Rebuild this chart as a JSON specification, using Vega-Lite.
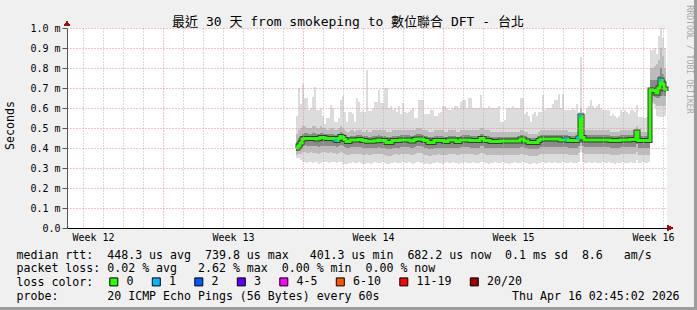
{
"$schema":"https://vega.github.io/schema/vega-lite/v6.json",
"width":600,"height":200,
"autosize":{"type":"none"},
"padding":{"left":67,"top":28,"right":30,"bottom":82},
"background":"#f0f0f0",
"config":{"view":{"fill":"#ffffff","stroke":null},"font":"DejaVu Sans Mono"},
"data":{"values":[
{"t":11.45,"a":0.56,"b":0.47,"c":0.43,"m":0.40,"f":0.385,"g":0.365,"n":0.35,"L":"0"},
{"t":11.55,"a":0.70,"b":0.49,"c":0.45,"m":0.41,"f":0.39,"g":0.37,"n":0.35,"L":"0"},
{"t":11.65,"a":0.62,"b":0.50,"c":0.46,"m":0.425,"f":0.40,"g":0.37,"n":0.34,"L":"0"},
{"t":11.75,"a":0.72,"b":0.51,"c":0.47,"m":0.445,"f":0.41,"g":0.38,"n":0.33,"L":"0"},
{"t":11.85,"a":0.65,"b":0.51,"c":0.475,"m":0.448,"f":0.415,"g":0.38,"n":0.33,"L":"0"},
{"t":11.95,"a":0.65,"b":0.50,"c":0.475,"m":0.448,"f":0.41,"g":0.375,"n":0.325,"L":"0"},
{"t":12.05,"a":0.59,"b":0.50,"c":0.47,"m":0.448,"f":0.41,"g":0.375,"n":0.33,"L":"0"},
{"t":12.15,"a":0.60,"b":0.50,"c":0.47,"m":0.448,"f":0.41,"g":0.38,"n":0.33,"L":"0"},
{"t":12.25,"a":0.655,"b":0.51,"c":0.475,"m":0.448,"f":0.41,"g":0.375,"n":0.325,"L":"0"},
{"t":12.35,"a":0.705,"b":0.51,"c":0.475,"m":0.448,"f":0.41,"g":0.375,"n":0.33,"L":"0"},
{"t":12.45,"a":0.59,"b":0.50,"c":0.47,"m":0.445,"f":0.41,"g":0.375,"n":0.33,"L":"0"},
{"t":12.55,"a":0.59,"b":0.50,"c":0.47,"m":0.448,"f":0.405,"g":0.37,"n":0.32,"L":"0"},
{"t":12.65,"a":0.60,"b":0.51,"c":0.475,"m":0.453,"f":0.41,"g":0.375,"n":0.325,"L":"0"},
{"t":12.75,"a":0.56,"b":0.50,"c":0.475,"m":0.453,"f":0.41,"g":0.38,"n":0.33,"L":"0"},
{"t":12.85,"a":0.52,"b":0.50,"c":0.47,"m":0.45,"f":0.41,"g":0.38,"n":0.33,"L":"0"},
{"t":12.95,"a":0.55,"b":0.49,"c":0.47,"m":0.447,"f":0.41,"g":0.375,"n":0.33,"L":"0"},
{"t":13.05,"a":0.55,"b":0.49,"c":0.47,"m":0.447,"f":0.41,"g":0.375,"n":0.325,"L":"0"},
{"t":13.15,"a":0.615,"b":0.50,"c":0.47,"m":0.447,"f":0.41,"g":0.38,"n":0.33,"L":"0"},
{"t":13.25,"a":0.60,"b":0.50,"c":0.47,"m":0.447,"f":0.41,"g":0.375,"n":0.33,"L":"0"},
{"t":13.35,"a":0.53,"b":0.49,"c":0.465,"m":0.445,"f":0.41,"g":0.375,"n":0.33,"L":"0"},
{"t":13.45,"a":0.53,"b":0.49,"c":0.465,"m":0.438,"f":0.405,"g":0.37,"n":0.325,"L":"1"},
{"t":13.55,"a":0.55,"b":0.50,"c":0.47,"m":0.448,"f":0.41,"g":0.375,"n":0.33,"L":"0"},
{"t":13.65,"a":0.64,"b":0.51,"c":0.48,"m":0.457,"f":0.415,"g":0.38,"n":0.33,"L":"0"},
{"t":13.75,"a":0.66,"b":0.50,"c":0.475,"m":0.452,"f":0.41,"g":0.375,"n":0.32,"L":"0"},
{"t":13.85,"a":0.58,"b":0.49,"c":0.465,"m":0.443,"f":0.405,"g":0.37,"n":0.32,"L":"0"},
{"t":13.95,"a":0.53,"b":0.48,"c":0.455,"m":0.432,"f":0.40,"g":0.365,"n":0.32,"L":"0"},
{"t":14.05,"a":0.58,"b":0.48,"c":0.455,"m":0.432,"f":0.40,"g":0.365,"n":0.325,"L":"0"},
{"t":14.15,"a":0.58,"b":0.49,"c":0.46,"m":0.44,"f":0.405,"g":0.37,"n":0.325,"L":"0"},
{"t":14.25,"a":0.57,"b":0.49,"c":0.46,"m":0.44,"f":0.405,"g":0.37,"n":0.33,"L":"0"},
{"t":14.35,"a":0.53,"b":0.48,"c":0.46,"m":0.44,"f":0.405,"g":0.37,"n":0.325,"L":"0"},
{"t":14.45,"a":0.65,"b":0.49,"c":0.465,"m":0.44,"f":0.405,"g":0.37,"n":0.325,"L":"0"},
{"t":14.55,"a":0.63,"b":0.49,"c":0.465,"m":0.443,"f":0.405,"g":0.37,"n":0.33,"L":"0"},
{"t":14.65,"a":0.58,"b":0.49,"c":0.465,"m":0.443,"f":0.405,"g":0.37,"n":0.325,"L":"0"},
{"t":14.75,"a":0.585,"b":0.48,"c":0.46,"m":0.437,"f":0.40,"g":0.365,"n":0.32,"L":"0"},
{"t":14.85,"a":0.58,"b":0.48,"c":0.46,"m":0.437,"f":0.40,"g":0.365,"n":0.32,"L":"0"},
{"t":14.95,"a":0.79,"b":0.49,"c":0.46,"m":0.434,"f":0.40,"g":0.37,"n":0.325,"L":"0"},
{"t":15.05,"a":0.585,"b":0.48,"c":0.455,"m":0.434,"f":0.40,"g":0.365,"n":0.325,"L":"0"},
{"t":15.15,"a":0.585,"b":0.48,"c":0.455,"m":0.434,"f":0.40,"g":0.365,"n":0.32,"L":"0"},
{"t":15.25,"a":0.60,"b":0.49,"c":0.46,"m":0.434,"f":0.40,"g":0.37,"n":0.325,"L":"0"},
{"t":15.35,"a":0.63,"b":0.49,"c":0.46,"m":0.436,"f":0.40,"g":0.37,"n":0.33,"L":"0"},
{"t":15.45,"a":0.63,"b":0.49,"c":0.46,"m":0.436,"f":0.40,"g":0.37,"n":0.325,"L":"0"},
{"t":15.55,"a":0.69,"b":0.49,"c":0.465,"m":0.44,"f":0.405,"g":0.37,"n":0.325,"L":"0"},
{"t":15.65,"a":0.625,"b":0.49,"c":0.46,"m":0.437,"f":0.40,"g":0.37,"n":0.325,"L":"0"},
{"t":15.75,"a":0.625,"b":0.49,"c":0.46,"m":0.437,"f":0.40,"g":0.37,"n":0.33,"L":"0"},
{"t":15.85,"a":0.70,"b":0.49,"c":0.46,"m":0.437,"f":0.40,"g":0.365,"n":0.325,"L":"0"},
{"t":15.95,"a":0.70,"b":0.48,"c":0.455,"m":0.428,"f":0.395,"g":0.36,"n":0.32,"L":"0"},
{"t":16.05,"a":0.60,"b":0.48,"c":0.455,"m":0.428,"f":0.395,"g":0.36,"n":0.32,"L":"0"},
{"t":16.15,"a":0.61,"b":0.48,"c":0.455,"m":0.428,"f":0.395,"g":0.36,"n":0.325,"L":"0"},
{"t":16.25,"a":0.59,"b":0.49,"c":0.46,"m":0.437,"f":0.40,"g":0.365,"n":0.325,"L":"0"},
{"t":16.35,"a":0.60,"b":0.49,"c":0.46,"m":0.437,"f":0.40,"g":0.37,"n":0.33,"L":"0"},
{"t":16.45,"a":0.58,"b":0.49,"c":0.46,"m":0.437,"f":0.40,"g":0.37,"n":0.325,"L":"0"},
{"t":16.55,"a":0.61,"b":0.49,"c":0.46,"m":0.437,"f":0.40,"g":0.365,"n":0.325,"L":"0"},
{"t":16.65,"a":0.57,"b":0.49,"c":0.465,"m":0.44,"f":0.405,"g":0.37,"n":0.325,"L":"0"},
{"t":16.75,"a":0.625,"b":0.49,"c":0.465,"m":0.44,"f":0.405,"g":0.37,"n":0.33,"L":"0"},
{"t":16.85,"a":0.58,"b":0.49,"c":0.465,"m":0.44,"f":0.405,"g":0.37,"n":0.325,"L":"0"},
{"t":16.95,"a":0.575,"b":0.49,"c":0.465,"m":0.44,"f":0.405,"g":0.37,"n":0.325,"L":"0"},
{"t":17.05,"a":0.58,"b":0.49,"c":0.465,"m":0.44,"f":0.405,"g":0.37,"n":0.33,"L":"0"},
{"t":17.15,"a":0.59,"b":0.49,"c":0.46,"m":0.435,"f":0.40,"g":0.365,"n":0.325,"L":"0"},
{"t":17.25,"a":0.60,"b":0.49,"c":0.46,"m":0.435,"f":0.40,"g":0.365,"n":0.32,"L":"0"},
{"t":17.35,"a":0.55,"b":0.49,"c":0.465,"m":0.443,"f":0.405,"g":0.37,"n":0.325,"L":"0"},
{"t":17.45,"a":0.55,"b":0.50,"c":0.47,"m":0.445,"f":0.41,"g":0.375,"n":0.33,"L":"0"},
{"t":17.55,"a":0.64,"b":0.50,"c":0.47,"m":0.445,"f":0.41,"g":0.375,"n":0.33,"L":"0"},
{"t":17.65,"a":0.64,"b":0.50,"c":0.47,"m":0.445,"f":0.41,"g":0.375,"n":0.325,"L":"0"},
{"t":17.75,"a":0.64,"b":0.49,"c":0.465,"m":0.443,"f":0.405,"g":0.37,"n":0.325,"L":"0"},
{"t":17.85,"a":0.57,"b":0.49,"c":0.46,"m":0.437,"f":0.40,"g":0.365,"n":0.32,"L":"0"},
{"t":17.95,"a":0.57,"b":0.49,"c":0.46,"m":0.437,"f":0.40,"g":0.365,"n":0.325,"L":"0"},
{"t":18.05,"a":0.57,"b":0.48,"c":0.455,"m":0.428,"f":0.395,"g":0.36,"n":0.32,"L":"0"},
{"t":18.15,"a":0.59,"b":0.48,"c":0.455,"m":0.428,"f":0.395,"g":0.36,"n":0.32,"L":"0"},
{"t":18.25,"a":0.59,"b":0.48,"c":0.455,"m":0.428,"f":0.395,"g":0.365,"n":0.325,"L":"0"},
{"t":18.35,"a":0.56,"b":0.49,"c":0.46,"m":0.437,"f":0.40,"g":0.365,"n":0.325,"L":"0"},
{"t":18.45,"a":0.56,"b":0.49,"c":0.46,"m":0.437,"f":0.40,"g":0.365,"n":0.33,"L":"0"},
{"t":18.55,"a":0.575,"b":0.49,"c":0.46,"m":0.437,"f":0.40,"g":0.37,"n":0.325,"L":"0"},
{"t":18.65,"a":0.58,"b":0.49,"c":0.46,"m":0.437,"f":0.40,"g":0.365,"n":0.325,"L":"0"},
{"t":18.75,"a":0.61,"b":0.49,"c":0.46,"m":0.437,"f":0.40,"g":0.365,"n":0.32,"L":"0"},
{"t":18.85,"a":0.61,"b":0.48,"c":0.455,"m":0.432,"f":0.40,"g":0.365,"n":0.325,"L":"0"},
{"t":18.95,"a":0.60,"b":0.48,"c":0.455,"m":0.432,"f":0.40,"g":0.365,"n":0.33,"L":"0"},
{"t":19.05,"a":0.59,"b":0.49,"c":0.46,"m":0.44,"f":0.40,"g":0.37,"n":0.325,"L":"0"},
{"t":19.15,"a":0.59,"b":0.49,"c":0.46,"m":0.44,"f":0.40,"g":0.37,"n":0.325,"L":"0"},
{"t":19.25,"a":0.60,"b":0.49,"c":0.46,"m":0.44,"f":0.40,"g":0.37,"n":0.33,"L":"0"},
{"t":19.35,"a":0.61,"b":0.49,"c":0.46,"m":0.44,"f":0.40,"g":0.37,"n":0.325,"L":"0"},
{"t":19.45,"a":0.61,"b":0.48,"c":0.455,"m":0.432,"f":0.40,"g":0.365,"n":0.325,"L":"0"},
{"t":19.55,"a":0.60,"b":0.48,"c":0.455,"m":0.432,"f":0.40,"g":0.365,"n":0.32,"L":"0"},
{"t":19.65,"a":0.63,"b":0.49,"c":0.46,"m":0.44,"f":0.405,"g":0.37,"n":0.325,"L":"0"},
{"t":19.75,"a":0.64,"b":0.49,"c":0.465,"m":0.44,"f":0.405,"g":0.37,"n":0.325,"L":"0"},
{"t":19.85,"a":0.64,"b":0.49,"c":0.465,"m":0.44,"f":0.405,"g":0.37,"n":0.33,"L":"0"},
{"t":19.95,"a":0.60,"b":0.49,"c":0.465,"m":0.44,"f":0.405,"g":0.37,"n":0.325,"L":"0"},
{"t":20.05,"a":0.65,"b":0.49,"c":0.465,"m":0.44,"f":0.405,"g":0.37,"n":0.325,"L":"0"},
{"t":20.15,"a":0.65,"b":0.49,"c":0.46,"m":0.437,"f":0.40,"g":0.37,"n":0.325,"L":"0"},
{"t":20.25,"a":0.60,"b":0.49,"c":0.46,"m":0.437,"f":0.40,"g":0.37,"n":0.33,"L":"0"},
{"t":20.35,"a":0.60,"b":0.49,"c":0.46,"m":0.437,"f":0.40,"g":0.365,"n":0.325,"L":"0"},
{"t":20.45,"a":0.60,"b":0.49,"c":0.46,"m":0.437,"f":0.40,"g":0.365,"n":0.325,"L":"0"},
{"t":20.55,"a":0.60,"b":0.49,"c":0.46,"m":0.437,"f":0.40,"g":0.37,"n":0.325,"L":"0"},
{"t":20.65,"a":0.665,"b":0.50,"c":0.47,"m":0.447,"f":0.41,"g":0.375,"n":0.33,"L":"0"},
{"t":20.75,"a":0.60,"b":0.50,"c":0.47,"m":0.447,"f":0.41,"g":0.375,"n":0.33,"L":"0"},
{"t":20.85,"a":0.60,"b":0.49,"c":0.46,"m":0.437,"f":0.40,"g":0.37,"n":0.325,"L":"0"},
{"t":20.95,"a":0.60,"b":0.49,"c":0.46,"m":0.437,"f":0.40,"g":0.365,"n":0.325,"L":"0"},
{"t":21.05,"a":0.61,"b":0.49,"c":0.46,"m":0.437,"f":0.40,"g":0.365,"n":0.32,"L":"0"},
{"t":21.15,"a":0.60,"b":0.48,"c":0.455,"m":0.433,"f":0.40,"g":0.365,"n":0.325,"L":"0"},
{"t":21.25,"a":0.60,"b":0.48,"c":0.455,"m":0.433,"f":0.40,"g":0.365,"n":0.325,"L":"0"},
{"t":21.35,"a":0.60,"b":0.48,"c":0.455,"m":0.433,"f":0.40,"g":0.365,"n":0.33,"L":"0"},
{"t":21.45,"a":0.60,"b":0.48,"c":0.455,"m":0.433,"f":0.40,"g":0.365,"n":0.325,"L":"0"},
{"t":21.55,"a":0.61,"b":0.48,"c":0.455,"m":0.433,"f":0.40,"g":0.365,"n":0.325,"L":"0"},
{"t":21.65,"a":0.53,"b":0.48,"c":0.455,"m":0.435,"f":0.40,"g":0.365,"n":0.325,"L":"0"},
{"t":21.75,"a":0.53,"b":0.48,"c":0.455,"m":0.435,"f":0.40,"g":0.365,"n":0.33,"L":"0"},
{"t":21.85,"a":0.54,"b":0.48,"c":0.455,"m":0.435,"f":0.40,"g":0.365,"n":0.325,"L":"0"},
{"t":21.95,"a":0.60,"b":0.48,"c":0.455,"m":0.435,"f":0.40,"g":0.365,"n":0.325,"L":"0"},
{"t":22.05,"a":0.60,"b":0.48,"c":0.455,"m":0.435,"f":0.40,"g":0.365,"n":0.32,"L":"0"},
{"t":22.15,"a":0.60,"b":0.48,"c":0.455,"m":0.435,"f":0.40,"g":0.365,"n":0.325,"L":"0"},
{"t":22.25,"a":0.61,"b":0.48,"c":0.455,"m":0.435,"f":0.40,"g":0.365,"n":0.325,"L":"0"},
{"t":22.35,"a":0.60,"b":0.48,"c":0.455,"m":0.435,"f":0.40,"g":0.365,"n":0.33,"L":"0"},
{"t":22.45,"a":0.60,"b":0.48,"c":0.455,"m":0.435,"f":0.40,"g":0.365,"n":0.325,"L":"0"},
{"t":22.55,"a":0.60,"b":0.48,"c":0.455,"m":0.435,"f":0.40,"g":0.365,"n":0.325,"L":"0"},
{"t":22.65,"a":0.65,"b":0.49,"c":0.465,"m":0.445,"f":0.405,"g":0.37,"n":0.325,"L":"0"},
{"t":22.75,"a":0.65,"b":0.49,"c":0.465,"m":0.445,"f":0.405,"g":0.37,"n":0.33,"L":"0"},
{"t":22.85,"a":0.57,"b":0.48,"c":0.455,"m":0.435,"f":0.40,"g":0.365,"n":0.325,"L":"0"},
{"t":22.95,"a":0.58,"b":0.48,"c":0.455,"m":0.435,"f":0.40,"g":0.365,"n":0.325,"L":"0"},
{"t":23.05,"a":0.56,"b":0.47,"c":0.45,"m":0.427,"f":0.395,"g":0.36,"n":0.32,"L":"0"},
{"t":23.15,"a":0.53,"b":0.47,"c":0.45,"m":0.427,"f":0.395,"g":0.36,"n":0.32,"L":"0"},
{"t":23.25,"a":0.57,"b":0.47,"c":0.45,"m":0.427,"f":0.395,"g":0.36,"n":0.325,"L":"0"},
{"t":23.35,"a":0.58,"b":0.47,"c":0.45,"m":0.427,"f":0.395,"g":0.36,"n":0.325,"L":"0"},
{"t":23.45,"a":0.56,"b":0.47,"c":0.45,"m":0.427,"f":0.395,"g":0.36,"n":0.32,"L":"0"},
{"t":23.55,"a":0.58,"b":0.48,"c":0.455,"m":0.437,"f":0.40,"g":0.365,"n":0.325,"L":"0"},
{"t":23.65,"a":0.58,"b":0.49,"c":0.465,"m":0.445,"f":0.405,"g":0.37,"n":0.325,"L":"0"},
{"t":23.75,"a":0.665,"b":0.49,"c":0.465,"m":0.445,"f":0.405,"g":0.37,"n":0.33,"L":"0"},
{"t":23.85,"a":0.59,"b":0.49,"c":0.465,"m":0.445,"f":0.405,"g":0.37,"n":0.325,"L":"0"},
{"t":23.95,"a":0.60,"b":0.49,"c":0.465,"m":0.445,"f":0.405,"g":0.37,"n":0.325,"L":"0"},
{"t":24.05,"a":0.60,"b":0.49,"c":0.465,"m":0.445,"f":0.405,"g":0.37,"n":0.33,"L":"0"},
{"t":24.15,"a":0.60,"b":0.49,"c":0.465,"m":0.445,"f":0.405,"g":0.37,"n":0.325,"L":"0"},
{"t":24.25,"a":0.62,"b":0.49,"c":0.465,"m":0.445,"f":0.405,"g":0.37,"n":0.325,"L":"0"},
{"t":24.35,"a":0.64,"b":0.49,"c":0.465,"m":0.445,"f":0.405,"g":0.37,"n":0.33,"L":"0"},
{"t":24.45,"a":0.64,"b":0.49,"c":0.465,"m":0.445,"f":0.405,"g":0.37,"n":0.325,"L":"0"},
{"t":24.55,"a":0.67,"b":0.49,"c":0.465,"m":0.445,"f":0.405,"g":0.37,"n":0.325,"L":"0"},
{"t":24.65,"a":0.60,"b":0.49,"c":0.465,"m":0.44,"f":0.405,"g":0.37,"n":0.325,"L":"0"},
{"t":24.75,"a":0.67,"b":0.49,"c":0.465,"m":0.44,"f":0.405,"g":0.37,"n":0.33,"L":"0"},
{"t":24.85,"a":0.59,"b":0.49,"c":0.465,"m":0.44,"f":0.405,"g":0.37,"n":0.325,"L":"0"},
{"t":24.95,"a":0.59,"b":0.49,"c":0.465,"m":0.445,"f":0.405,"g":0.37,"n":0.325,"L":"1"},
{"t":25.05,"a":0.59,"b":0.48,"c":0.46,"m":0.437,"f":0.40,"g":0.365,"n":0.325,"L":"0"},
{"t":25.15,"a":0.59,"b":0.48,"c":0.46,"m":0.437,"f":0.40,"g":0.365,"n":0.33,"L":"0"},
{"t":25.25,"a":0.60,"b":0.48,"c":0.46,"m":0.437,"f":0.40,"g":0.365,"n":0.325,"L":"0"},
{"t":25.35,"a":0.59,"b":0.48,"c":0.46,"m":0.437,"f":0.40,"g":0.365,"n":0.325,"L":"0"},
{"t":25.45,"a":0.62,"b":0.48,"c":0.46,"m":0.437,"f":0.40,"g":0.365,"n":0.325,"L":"0"},
{"t":25.55,"a":0.58,"b":0.49,"c":0.465,"m":0.45,"f":0.41,"g":0.375,"n":0.33,"L":"1"},
{"t":25.65,"a":0.855,"b":0.60,"c":0.57,"m":0.56,"f":0.43,"g":0.41,"n":0.38,"L":"1"},
{"t":25.75,"a":0.58,"b":0.49,"c":0.47,"m":0.452,"f":0.41,"g":0.375,"n":0.33,"L":"0"},
{"t":25.85,"a":0.57,"b":0.49,"c":0.465,"m":0.44,"f":0.405,"g":0.37,"n":0.325,"L":"0"},
{"t":25.95,"a":0.60,"b":0.49,"c":0.465,"m":0.44,"f":0.405,"g":0.37,"n":0.325,"L":"0"},
{"t":26.05,"a":0.61,"b":0.49,"c":0.465,"m":0.44,"f":0.405,"g":0.37,"n":0.33,"L":"0"},
{"t":26.15,"a":0.64,"b":0.49,"c":0.465,"m":0.44,"f":0.405,"g":0.37,"n":0.325,"L":"0"},
{"t":26.25,"a":0.61,"b":0.49,"c":0.465,"m":0.44,"f":0.405,"g":0.37,"n":0.325,"L":"0"},
{"t":26.35,"a":0.60,"b":0.49,"c":0.465,"m":0.44,"f":0.405,"g":0.37,"n":0.33,"L":"0"},
{"t":26.45,"a":0.61,"b":0.49,"c":0.465,"m":0.44,"f":0.405,"g":0.37,"n":0.325,"L":"0"},
{"t":26.55,"a":0.62,"b":0.49,"c":0.465,"m":0.44,"f":0.405,"g":0.37,"n":0.325,"L":"0"},
{"t":26.65,"a":0.60,"b":0.49,"c":0.465,"m":0.44,"f":0.405,"g":0.37,"n":0.325,"L":"0"},
{"t":26.75,"a":0.59,"b":0.49,"c":0.465,"m":0.44,"f":0.405,"g":0.37,"n":0.33,"L":"0"},
{"t":26.85,"a":0.59,"b":0.49,"c":0.465,"m":0.44,"f":0.405,"g":0.37,"n":0.325,"L":"0"},
{"t":26.95,"a":0.59,"b":0.49,"c":0.465,"m":0.44,"f":0.405,"g":0.37,"n":0.325,"L":"0"},
{"t":27.05,"a":0.59,"b":0.49,"c":0.465,"m":0.44,"f":0.405,"g":0.37,"n":0.33,"L":"0"},
{"t":27.15,"a":0.56,"b":0.48,"c":0.46,"m":0.437,"f":0.40,"g":0.365,"n":0.325,"L":"0"},
{"t":27.25,"a":0.57,"b":0.48,"c":0.46,"m":0.437,"f":0.40,"g":0.365,"n":0.325,"L":"0"},
{"t":27.35,"a":0.56,"b":0.48,"c":0.46,"m":0.437,"f":0.40,"g":0.365,"n":0.32,"L":"0"},
{"t":27.45,"a":0.55,"b":0.48,"c":0.46,"m":0.437,"f":0.40,"g":0.365,"n":0.325,"L":"0"},
{"t":27.55,"a":0.56,"b":0.48,"c":0.46,"m":0.437,"f":0.40,"g":0.365,"n":0.325,"L":"0"},
{"t":27.65,"a":0.59,"b":0.49,"c":0.465,"m":0.44,"f":0.405,"g":0.37,"n":0.325,"L":"0"},
{"t":27.75,"a":0.58,"b":0.49,"c":0.465,"m":0.44,"f":0.405,"g":0.37,"n":0.33,"L":"0"},
{"t":27.85,"a":0.59,"b":0.49,"c":0.465,"m":0.44,"f":0.405,"g":0.37,"n":0.325,"L":"0"},
{"t":27.95,"a":0.58,"b":0.49,"c":0.465,"m":0.44,"f":0.405,"g":0.37,"n":0.325,"L":"0"},
{"t":28.05,"a":0.57,"b":0.49,"c":0.465,"m":0.44,"f":0.405,"g":0.37,"n":0.325,"L":"0"},
{"t":28.15,"a":0.59,"b":0.49,"c":0.465,"m":0.443,"f":0.405,"g":0.37,"n":0.33,"L":"0"},
{"t":28.25,"a":0.59,"b":0.49,"c":0.465,"m":0.443,"f":0.405,"g":0.37,"n":0.325,"L":"0"},
{"t":28.35,"a":0.58,"b":0.49,"c":0.465,"m":0.443,"f":0.405,"g":0.37,"n":0.325,"L":"0"},
{"t":28.45,"a":0.615,"b":0.51,"c":0.49,"m":0.48,"f":0.42,"g":0.38,"n":0.34,"L":"0"},
{"t":28.55,"a":0.555,"b":0.48,"c":0.46,"m":0.437,"f":0.40,"g":0.365,"n":0.325,"L":"0"},
{"t":28.65,"a":0.555,"b":0.48,"c":0.46,"m":0.437,"f":0.40,"g":0.365,"n":0.325,"L":"0"},
{"t":28.75,"a":0.555,"b":0.48,"c":0.46,"m":0.437,"f":0.40,"g":0.365,"n":0.33,"L":"0"},
{"t":28.85,"a":0.55,"b":0.48,"c":0.46,"m":0.437,"f":0.40,"g":0.365,"n":0.325,"L":"0"},
{"t":28.95,"a":0.555,"b":0.48,"c":0.46,"m":0.437,"f":0.40,"g":0.365,"n":0.325,"L":"0"},
{"t":29.05,"a":0.555,"b":0.48,"c":0.46,"m":0.437,"f":0.40,"g":0.365,"n":0.33,"L":"0"},
{"t":29.15,"a":0.89,"b":0.80,"c":0.74,"m":0.69,"f":0.66,"g":0.64,"n":0.63,"L":"0"},
{"t":29.25,"a":0.89,"b":0.80,"c":0.74,"m":0.687,"f":0.66,"g":0.63,"n":0.62,"L":"0"},
{"t":29.35,"a":0.90,"b":0.81,"c":0.74,"m":0.687,"f":0.655,"g":0.62,"n":0.60,"L":"0"},
{"t":29.45,"a":0.87,"b":0.82,"c":0.74,"m":0.675,"f":0.65,"g":0.61,"n":0.56,"L":"0"},
{"t":29.55,"a":0.96,"b":0.84,"c":0.76,"m":0.70,"f":0.65,"g":0.61,"n":0.555,"L":"0"},
{"t":29.65,"a":1.00,"b":0.90,"c":0.80,"m":0.74,"f":0.66,"g":0.61,"n":0.555,"L":"1"},
{"t":29.75,"a":0.95,"b":0.86,"c":0.77,"m":0.72,"f":0.66,"g":0.61,"n":0.555,"L":"0"},
{"t":29.85,"a":0.90,"b":0.80,"c":0.74,"m":0.695,"f":0.66,"g":0.61,"n":0.56,"L":"0"},
{"t":29.95,"a":0.90,"b":0.80,"c":0.74,"m":0.685,"f":0.66,"g":0.61,"n":0.56,"L":"0"}
]},
"layer":[
{"mark":{"type":"area","interpolate":"step-after","color":"#dcdcdc"},
 "encoding":{
  "x":{"field":"t","type":"quantitative","scale":{"domain":[0,30],"nice":false,"zero":false},
   "axis":{"orient":"bottom","values":[0.8,1.8,2.8,3.8,4.8,5.8,6.8,7.8,8.8,9.8,10.8,11.8,12.8,13.8,14.8,15.8,16.8,17.8,18.8,19.8,20.8,21.8,22.8,23.8,24.8,25.8,26.8,27.8,28.8,29.8],
    "grid":true,"gridColor":{"condition":{"test":"indexof([4.8,11.8,18.8,25.8], datum.value) >= 0","value":"#e08c8c"},"value":"#b4b4b4"},
    "gridDash":[1,2],"gridWidth":1,"labels":false,"ticks":false,"domain":false,"title":null,"zindex":1}},
  "y":{"field":"a","type":"quantitative","scale":{"domain":[0,1],"nice":false,"zero":true},
   "axis":{"orient":"left","values":[0,0.1,0.2,0.3,0.4,0.5,0.6,0.7,0.8,0.9,1.0],
    "labelExpr":"datum.value == 0 ? '0.0' : format(datum.value, '.1f') + ' m'",
    "grid":true,"gridColor":"#e08c8c","gridDash":[1,2],"zindex":1,
    "domainColor":"#555555","tickColor":"#555555","tickSize":5,
    "labelFont":"DejaVu Sans Mono","labelFontSize":10,"labelColor":"#000000","labelPadding":2,"labelOverlap":false,
    "title":"Seconds","titleFont":"DejaVu Sans Mono","titleFontSize":11.6,"titleFontWeight":"normal","titleColor":"#000000",
    "titleAngle":270,"titleX":-57,"titleY":97,"titleAlign":"center","titleBaseline":"middle"}},
  "y2":{"field":"n"}}},
{"mark":{"type":"area","interpolate":"step-after","color":"#bcbcbc"},
 "encoding":{"x":{"field":"t","type":"quantitative","axis":null},"y":{"field":"b","type":"quantitative","axis":null},"y2":{"field":"g"}}},
{"mark":{"type":"area","interpolate":"step-after","color":"#8a8a8a"},
 "encoding":{"x":{"field":"t","type":"quantitative","axis":null},"y":{"field":"c","type":"quantitative","axis":null},"y2":{"field":"f"}}},
{"mark":{"type":"line","interpolate":"step-after","color":"#383838","strokeWidth":5},
 "encoding":{
  "x":{"field":"t","type":"quantitative",
   "axis":{"orient":"top","labels":false,"ticks":false,"domain":false,"grid":false,
    "title":"最近 30 天 from smokeping to 數位聯合 DFT - 台北",
    "titleFont":"DejaVu Sans Mono, Noto Sans CJK TC","titleFontSize":13,"titleFontWeight":"normal","titleColor":"#000000",
    "titleX":280.5,"titleY":-3,"titleAlign":"center","titleBaseline":"alphabetic"}},
  "y":{"field":"m","type":"quantitative","axis":null}}},
{"mark":{"type":"line","interpolate":"step-after","color":"#26ff00","strokeWidth":3},
 "encoding":{
  "x":{"field":"t","type":"quantitative",
   "axis":{"orient":"bottom","values":[1.3,8.3,15.3,22.3,29.3],
    "labelExpr":"'Week ' + round((datum.value - 1.3) / 7 + 12)",
    "grid":false,"ticks":false,"domain":true,"domainColor":"#000000","domainWidth":1,
    "labelFont":"DejaVu Sans Mono","labelFontSize":10,"labelColor":"#000000","labelPadding":4,"labelFlush":false,"labelOverlap":false,"labelBound":false,
    "zindex":1,
    "title":["median rtt:\u00a0\u00a0448.3 us avg\u00a0\u00a0739.8 us max\u00a0\u00a0\u00a0401.3 us min\u00a0\u00a0682.2 us now\u00a0\u00a00.1 ms sd\u00a0\u00a08.6\u00a0\u00a0\u00a0am/s",
             "packet loss: 0.02 % avg\u00a0\u00a0\u00a02.62 % max\u00a0\u00a00.00 % min\u00a0\u00a00.00 % now",
             "loss color:",
             "probe:\u00a0\u00a0\u00a0\u00a0\u00a0\u00a0\u00a020 ICMP Echo Pings (56 Bytes) every 60s\u00a0\u00a0\u00a0\u00a0\u00a0\u00a0\u00a0\u00a0\u00a0\u00a0\u00a0\u00a0\u00a0\u00a0\u00a0\u00a0\u00a0\u00a0\u00a0Thu Apr 16 02:45:02 2026"],
    "titleFont":"DejaVu Sans Mono","titleFontSize":11.6,"titleFontWeight":"normal","titleColor":"#000000",
    "titleLineHeight":13.7,"titleX":-51,"titleY":30,"titleAlign":"left","titleBaseline":"alphabetic","titleAnchor":"start"}},
  "y":{"field":"m","type":"quantitative",
   "axis":{"orient":"right","labels":false,"ticks":false,"domain":false,"grid":false,
    "title":"RRDTOOL / TOBI OETIKER","titleFont":"DejaVu Sans Mono","titleFontSize":8.2,"titleFontWeight":"normal","titleColor":"#a8a8a8",
    "titleAngle":90,"titleX":21,"titleY":31,"titleAlign":"center","titleBaseline":"middle"}}}},
{"transform":[{"filter":"datum.L != '0'"}],
 "mark":{"type":"point","shape":"square","filled":true,"size":9,"opacity":1},
 "encoding":{
  "x":{"field":"t","type":"quantitative","axis":null},
  "y":{"field":"m","type":"quantitative","axis":null},
  "color":{"field":"L","type":"nominal",
   "scale":{"domain":["0","1","2","3","4-5","6-10","11-19","20/20"],"range":["#26ff00","#00b8ff","#0059ff","#5e00ff","#ff00ff","#ff5500","#ff0000","#a10000"]},
   "legend":{"orient":"none","legendX":41,"legendY":248,"direction":"horizontal","columns":8,"title":null,
    "symbolType":"square","symbolSize":64,"symbolStrokeColor":"#000000","symbolStrokeWidth":1,"symbolOpacity":1,
    "labelFont":"DejaVu Sans Mono","labelFontSize":11.6,"labelColor":"#000000","labelOffset":7,"columnPadding":15.5,"padding":0,"rowPadding":0}}}},
{"mark":{"type":"point","shape":"triangle-up","filled":true,"size":30,"color":"#a01010","opacity":1},
 "encoding":{"x":{"datum":0,"type":"quantitative","axis":null},"y":{"datum":1.0225,"type":"quantitative","axis":null}}},
{"mark":{"type":"point","shape":"triangle-right","filled":true,"size":30,"color":"#a01010","opacity":1},
 "encoding":{"x":{"datum":30.15,"type":"quantitative","axis":null},"y":{"datum":0,"type":"quantitative","axis":null}}},
{"mark":{"type":"rule","color":"#9c9c9c","strokeWidth":3},
 "encoding":{"x":{"datum":-3.35,"type":"quantitative","axis":null},"x2":{"datum":31.5},"y":{"datum":-0.4025,"type":"quantitative","axis":null}}},
{"mark":{"type":"rule","color":"#9c9c9c","strokeWidth":3},
 "encoding":{"x":{"datum":31.425,"type":"quantitative","axis":null},"y":{"datum":1.14,"type":"quantitative","axis":null},"y2":{"datum":-0.41}}}
],
"resolve":{"axis":{"x":"independent","y":"independent"}}
}
